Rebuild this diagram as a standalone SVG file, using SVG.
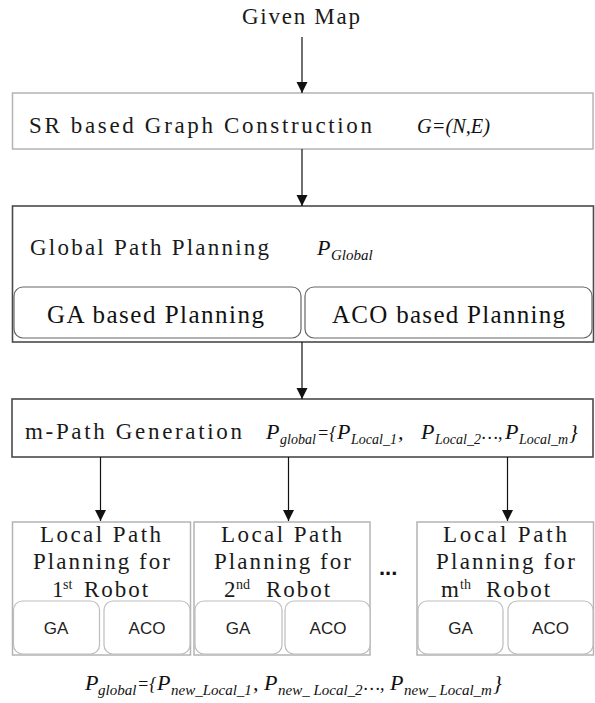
<svg xmlns="http://www.w3.org/2000/svg" width="595" height="703" viewBox="0 0 595 703">
<style>
  .bt { font-family: "Liberation Serif", "DejaVu Serif", serif; font-size: 23px; fill: #1a1a1a; }
  .tm { font-family: "Liberation Serif", "DejaVu Serif", serif; font-size: 25px; fill: #111; }
  .ss { font-family: "Liberation Sans", Arial, sans-serif; font-size: 17px; fill: #222; }
  .mi { font-family: "Liberation Serif", "DejaVu Serif", serif; font-style: italic; font-size: 22px; fill: #111; }
  .sub { font-size: 15px; }
  .sub14 { font-size: 14px; }
  .op { font-size: 18px; }
  .sup { font-size: 14px; }
  .light { fill: #fff; stroke: #b4b4b4; stroke-width: 1.5; }
  .dark { fill: #fff; stroke: #4a4a4a; stroke-width: 1.6; }
  .rr-dark { fill: #fff; stroke: #666; stroke-width: 1.2; }
  .rr-light { fill: #fff; stroke: #bdbdbd; stroke-width: 1.2; }
  .edge { stroke: #111; stroke-width: 1.2; fill: none; marker-end: url(#ah); }
</style>
<defs>
  <marker id="ah" markerUnits="userSpaceOnUse" markerWidth="12" markerHeight="12" viewBox="0 0 12 12" refX="11" refY="6" orient="auto">
    <path d="M0,0.5 L11,6 L0,11.5 Z" fill="#111"/>
  </marker>
</defs>
<rect width="595" height="703" fill="#fff"/>

<!-- input -->
<g id="given-map">
  <text class="bt" x="242" y="24" font-size="22" textLength="118" lengthAdjust="spacing">Given Map</text>
</g>

<!-- graph construction -->
<g id="graph-construction">
  <rect class="light" x="12.5" y="93" width="580.5" height="56"/>
  <text class="bt" x="29" y="133" textLength="343" lengthAdjust="spacing">SR based Graph Construction</text>
  <text class="mi" x="417" y="133" font-size="21" textLength="73" lengthAdjust="spacingAndGlyphs">G=(N,E)</text>
</g>

<!-- global planning -->
<g id="global-planning">
  <rect class="dark" x="12.5" y="206" width="581" height="136"/>
  <text class="bt" x="30" y="255" textLength="239" lengthAdjust="spacing">Global Path Planning</text>
  <text class="mi" x="317" y="255">P<tspan class="sub" x="331" dy="5">Global</tspan></text>
</g>
<g id="ga-planning">
  <rect class="rr-dark" x="14" y="287" width="287" height="51" rx="9"/>
  <text class="tm" x="47" y="323" textLength="217" lengthAdjust="spacing">GA based Planning</text>
</g>
<g id="aco-planning">
  <rect class="rr-dark" x="305" y="287" width="287" height="51" rx="9"/>
  <text class="tm" x="332" y="323" textLength="233" lengthAdjust="spacing">ACO based Planning</text>
</g>

<!-- path split -->
<g id="m-path-generation">
  <rect class="dark" x="12" y="399" width="581" height="58"/>
  <text class="bt" x="25" y="439" textLength="217" lengthAdjust="spacing">m-Path Generation</text>
  <text class="mi" y="439"><tspan x="266">P</tspan><tspan class="sub14" x="280" dy="5">global</tspan><tspan class="op" x="317" dy="-5">={</tspan><tspan x="337">P</tspan><tspan class="sub14" x="351" dy="5">Local_1</tspan><tspan x="398" dy="-5">,</tspan><tspan x="421">P</tspan><tspan class="sub14" x="435" dy="5">Local_2</tspan><tspan class="op" x="482" dy="-5">…,</tspan><tspan x="505">P</tspan><tspan class="sub14" x="519" dy="5">Local_m</tspan><tspan x="569" dy="-5">}</tspan></text>
</g>

<!-- per-robot planners -->
<g id="robot-1">
  <rect class="light" x="12.5" y="522" width="178" height="133"/>
  <text class="bt" x="40" y="542" textLength="121" lengthAdjust="spacing">Local Path</text>
  <text class="bt" x="33" y="569" textLength="137" lengthAdjust="spacing">Planning for</text>
  <text class="bt" y="597"><tspan x="52">1</tspan><tspan class="sup" x="63" dy="-8">st</tspan><tspan x="84" dy="8" letter-spacing="2">Robot</tspan></text>
  <rect class="rr-light" x="13.5" y="601" width="86" height="53" rx="9"/>
  <rect class="rr-light" x="104" y="601" width="86" height="53" rx="9"/>
  <text class="ss" x="56" y="634" text-anchor="middle">GA</text>
  <text class="ss" x="147" y="634" text-anchor="middle">ACO</text>
</g>
<g id="robot-2">
  <rect class="light" x="194" y="522" width="176" height="133"/>
  <text class="bt" x="221" y="542" textLength="121" lengthAdjust="spacing">Local Path</text>
  <text class="bt" x="214" y="569" textLength="137" lengthAdjust="spacing">Planning for</text>
  <text class="bt" y="597"><tspan x="224">2</tspan><tspan class="sup" x="236" dy="-8">nd</tspan><tspan x="266" dy="8" letter-spacing="2">Robot</tspan></text>
  <rect class="rr-light" x="195" y="601" width="87" height="53" rx="9"/>
  <rect class="rr-light" x="285" y="601" width="85" height="53" rx="9"/>
  <text class="ss" x="238" y="634" text-anchor="middle">GA</text>
  <text class="ss" x="328" y="634" text-anchor="middle">ACO</text>
</g>
<g id="ellipsis">
  <text x="379" y="575" font-family="Liberation Sans, Arial, sans-serif" font-size="22" font-weight="bold" fill="#111">...</text>
</g>
<g id="robot-m">
  <rect class="light" x="417" y="522" width="176.5" height="133"/>
  <text class="bt" x="443" y="542" textLength="124" lengthAdjust="spacing">Local Path</text>
  <text class="bt" x="436" y="569" textLength="139" lengthAdjust="spacing">Planning for</text>
  <text class="bt" y="597"><tspan x="441">m</tspan><tspan class="sup" x="460" dy="-8">th</tspan><tspan x="486" dy="8" letter-spacing="2">Robot</tspan></text>
  <rect class="rr-light" x="418" y="601" width="85" height="53" rx="9"/>
  <rect class="rr-light" x="508" y="601" width="85" height="53" rx="9"/>
  <text class="ss" x="460.5" y="634" text-anchor="middle">GA</text>
  <text class="ss" x="550.5" y="634" text-anchor="middle">ACO</text>
</g>

<!-- merged result -->
<g id="result">
  <text class="mi" y="690"><tspan x="85">P</tspan><tspan class="sub" x="98" dy="5">global</tspan><tspan class="op" x="137" dy="-5">={</tspan><tspan x="157">P</tspan><tspan class="sub" x="171" dy="5">new_Local_1</tspan><tspan x="253" dy="-5">,</tspan><tspan x="264">P</tspan><tspan class="sub" x="278" dy="5">new_ Local_2</tspan><tspan class="op" x="364" dy="-5">…,</tspan><tspan x="390">P</tspan><tspan class="sub" x="404" dy="5">new_ Local_m</tspan><tspan x="493" dy="-5">}</tspan></text>
</g>

<!-- connectors -->
<g id="connectors">
  <line class="edge" x1="302" y1="37" x2="302" y2="93"/>
  <line class="edge" x1="302" y1="149" x2="302" y2="206"/>
  <line class="edge" x1="302" y1="342" x2="302" y2="399"/>
  <line class="edge" x1="100.5" y1="457" x2="100.5" y2="521"/>
  <line class="edge" x1="288.5" y1="457" x2="288.5" y2="521"/>
  <line class="edge" x1="507.5" y1="457" x2="507.5" y2="521"/>
</g>
</svg>
